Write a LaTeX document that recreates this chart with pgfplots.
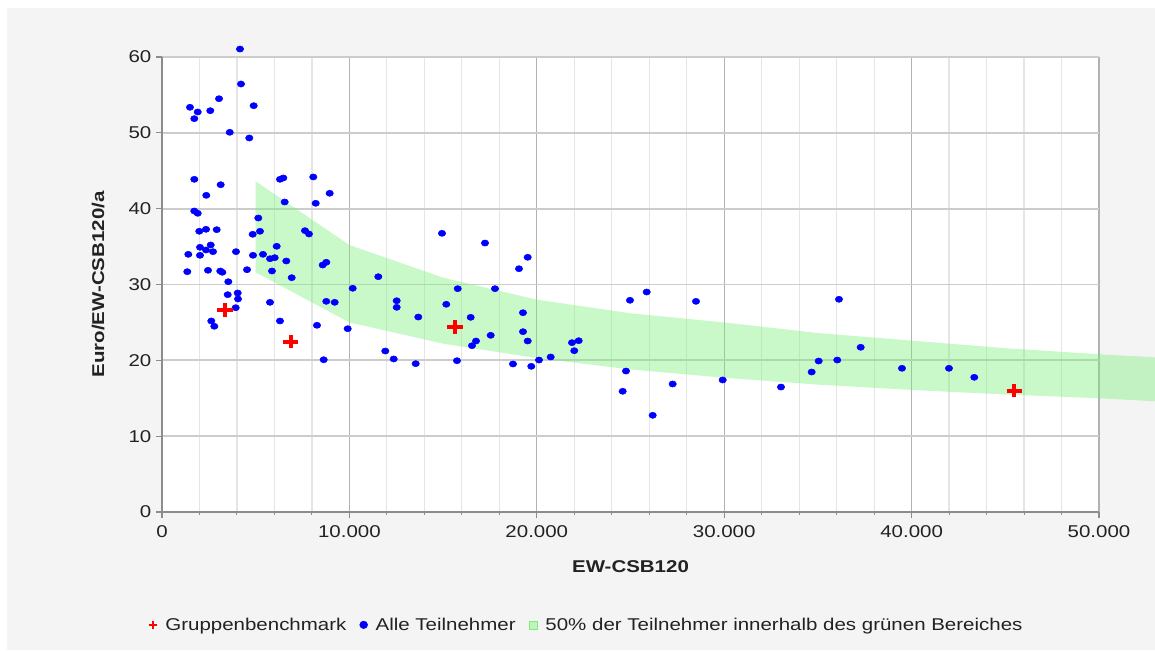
\documentclass[border=0pt]{standalone}
\usepackage{fontspec}
\setmainfont[FakeStretch=1.2]{Liberation Sans}
\usepackage{pgfplots}
\pgfplotsset{compat=1.18}
\usepackage{pgfplotstable}
\definecolor{panel}{RGB}{244,244,244}
\definecolor{band}{RGB}{120,240,120}
\definecolor{dotblue}{RGB}{0,0,255}
\definecolor{benchred}{RGB}{255,0,0}
\definecolor{txt}{RGB}{34,34,34}
\newcommand{\cf}{\fontsize{12.8}{15}\selectfont}

% alle Teilnehmer
\pgfplotstableread{
x y
4162 61.05
4215 56.44
1494 53.37
1905 52.75
1724 51.87
2577 52.92
3042 54.50
4893 53.58
3613 50.07
4658 49.32
1724 43.87
3132 43.16
2364 41.76
6296 43.87
6473 44.05
8073 44.18
6547 40.88
8201 40.71
8948 42.03
1724 39.69
1905 39.39
5139 38.77
4840 36.62
5229 37.02
1990 37.02
2348 37.28
2919 37.23
7630 37.10
7844 36.66
2028 34.91
2599 35.21
2348 34.55
2721 34.33
1403 33.98
2028 33.85
3949 34.33
4856 33.85
6120 35.04
5389 33.98
5763 33.40
6014 33.54
6633 33.10
1350 31.69
2455 31.87
3111 31.78
3218 31.61
4536 31.95
5870 31.78
6921 30.90
8575 32.57
8767 32.93
11542 31.03
3538 30.37
10176 29.50
3506 28.66
4039 28.88
4055 28.09
3933 26.94
5763 27.65
8767 27.78
9215 27.65
12524 27.86
12524 26.99
2631 25.19
2791 24.49
6296 25.19
8271 24.62
9909 24.17
11915 21.23
12364 20.18
8628 20.08
14941 36.75
17235 35.47
19514 33.59
19050 32.08
15779 29.45
17769 29.45
15170 27.39
13676 25.71
16472 25.67
19263 26.28
19263 23.78
17539 23.30
16755 22.55
16542 21.93
19514 22.55
21878 22.33
22235 22.59
22000 21.27
13537 19.56
15741 19.95
18729 19.52
19706 19.21
20117 20.04
20741 20.44
24759 18.59
24583 15.92
24972 27.92
25864 29.01
28494 27.78
36125 28.05
37283 21.72
35041 19.91
36034 20.04
34668 18.46
27251 16.88
29919 17.41
33030 16.48
26184 12.75
39486 18.95
41994 18.95
43344 17.76
}\teilnehmer

% Gruppenbenchmark
\pgfplotstableread{
x y
3362 26.64
6867 22.46
15634 24.40
45479 16.00
}\bench

% 50%-Bereich: obere Kante links->rechts, untere Kante rechts->links
\pgfplotstableread{
x y
5000 43.6
10000 35.2
15000 30.9
20000 28.0
25000 26.2
30000 25.0
35000 23.6
40000 22.6
45000 21.6
50000 20.8
53000 20.4
53000 14.6
50000 15.0
45000 15.5
40000 16.1
35000 16.8
30000 17.7
25000 18.8
20000 20.3
15000 22.2
10000 25.0
5000 31.6
}\bereich

\begin{document}
\begin{tikzpicture}
\useasboundingbox (-121.5pt,-103.5pt) rectangle (744.75pt,384pt);
\fill[panel] (-116.25pt,-103.5pt) rectangle (744.75pt,378pt);
\begin{axis}[at={(0pt,0pt)},anchor=south west,
  scale only axis,width=702.75pt,height=341.25pt,
  xmin=0,xmax=50000,ymin=0,ymax=60,clip=false,
  axis background/.style={fill=white},
  axis x line*=bottom,axis y line*=left,
  x axis line style={-,draw=black!45,line width=1pt},
  y axis line style={-,draw=black!45,line width=1pt},
  xtick distance=10000,ytick distance=10,minor x tick num=4,
  scaled x ticks=false,
  /pgf/number format/.cd,1000 sep={.},assume math mode=true,/pgfplots/.cd,
  tick align=outside,major tick length=4.5pt,minor tick length=2pt,
  tick style={black!45,line width=0.8pt},
  xmajorgrids,ymajorgrids,xminorgrids,
  major x grid style={black!30,line width=0.9pt},
  minor x grid style={black!10,line width=0.9pt},
  major y grid style={black!20,line width=1.3pt},
  tick label style={font=\cf,text=txt},
  xticklabel style={yshift=-2pt},
  xlabel={EW-CSB120},
  ylabel={Euro/EW-CSB120/a},
  every axis x label/.style={at={(axis description cs:0.5,-0.121)},anchor=center,
    font=\cf\bfseries,text=txt},
  every axis y label/.style={at={(axis description cs:-0.0683,0.5)},anchor=center,rotate=90,
    font=\cf\bfseries,text=txt},
  legend style={at={(axis description cs:0.4536,-0.248)},anchor=center,
    draw=none,fill=none,font=\cf,text=txt,legend columns=-1,
    /tikz/every odd column/.append style={column sep=4pt},
    /tikz/every even column/.append style={column sep=8pt},
    legend cell align=left},
  legend image code/.code={\draw[#1] plot coordinates {(0.1cm,0cm)};},
]
\addplot[draw=none,fill=band,fill opacity=0.4,forget plot] table {\bereich};
\addplot[only marks,mark=*,color=dotblue,mark size=2.3pt,
  mark options={xscale=1.2,fill=dotblue},forget plot] table {\teilnehmer};
\addplot[only marks,mark=+,color=benchred,mark size=5pt,
  mark options={xscale=1.15,line width=3pt},forget plot] table {\bench};
\addlegendimage{only marks,mark=+,color=benchred,mark size=3.2pt,mark options={line width=2pt}}
\addlegendentry{Gruppenbenchmark}
\addlegendimage{only marks,mark=*,color=dotblue,mark size=2.8pt,mark options={xscale=1.05,fill=dotblue}}
\addlegendentry{Alle Teilnehmer}
\addlegendimage{legend image code/.code={\fill[band,fill opacity=0.4] (0cm,-3pt) rectangle (6pt,3pt);}}
\addlegendentry{50\% der Teilnehmer innerhalb des grünen Bereiches}
\end{axis}
\end{tikzpicture}
\end{document}
